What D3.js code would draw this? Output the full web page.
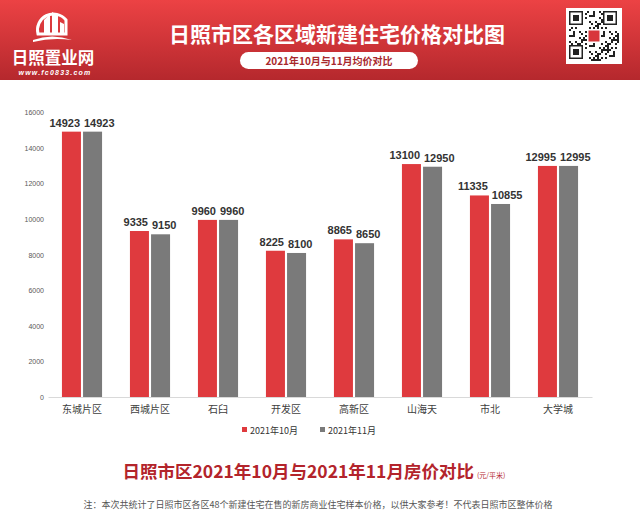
<!DOCTYPE html>
<html lang="zh">
<head>
<meta charset="utf-8">
<title>日照市区各区域新建住宅价格对比图</title>
<script src="https://cdn.jsdelivr.net/npm/d3@7"></script>
<style>
  body { margin: 0; background: #fff; }
  svg { display: block; font-family: "Liberation Sans", Arial, sans-serif; }
  .cjk { font-family: "Noto Sans CJK SC", sans-serif; }
</style>
</head>
<body>
<svg id="chart" width="640" height="514"></svg>
<script>
// data
var districts = ["东城片区", "西城片区", "石臼", "开发区", "高新区", "山海天", "市北", "大学城"];
var octPrice = [14923, 9335, 9960, 8225, 8865, 13100, 11335, 12995];
var novPrice = [14923, 9150, 9960, 8100, 8650, 12950, 10855, 12995];
var seriesNames = ["2021年10月", "2021年11月"];
var yTicks = [0, 2000, 4000, 6000, 8000, 10000, 12000, 14000, 16000];

var colors = ["#df3a3e", "#7a7a7a"];
var svg = d3.select("#chart");
var defs = svg.append("defs");

// ---- header band ----
var grad = defs.append("linearGradient").attr("id", "hdr")
  .attr("x1", 0).attr("y1", 0).attr("x2", 0).attr("y2", 1);
grad.append("stop").attr("offset", "0%").attr("stop-color", "#ec4244");
grad.append("stop").attr("offset", "100%").attr("stop-color", "#b5282d");
svg.append("rect").attr("x", 0).attr("y", 0).attr("width", 640).attr("height", 80)
  .attr("fill", "url(#hdr)");

// logo (simplified)
var logo = svg.append("g").attr("fill", "#fff");
logo.append("path")
  .attr("d", "M38,34 A16,16 0 0 1 66,20 L66,34 Z")
  .attr("fill", "none").attr("stroke", "#fff").attr("stroke-width", 3);
logo.append("path").attr("d", "M44,34 L44,20 L50,14 L50,34 Z");
logo.append("path").attr("d", "M52,34 L52,12 L58,16 L58,34 Z");
logo.append("path").attr("d", "M60,34 L60,22 L64,24 L64,34 Z");
logo.append("path").attr("d", "M33,40 Q52,33 72,40 Q52,37 33,42 Z");
logo.append("text").attr("class", "cjk").attr("x", 53).attr("y", 64)
  .attr("text-anchor", "middle").attr("font-size", 16.5).attr("font-weight", "bold")
  .text("日照置业网");
logo.append("text").attr("x", 55).attr("y", 75).attr("text-anchor", "middle")
  .attr("font-size", 7).attr("font-style", "italic").attr("font-weight", "bold")
  .attr("letter-spacing", 1.2).text("www.fc0833.com");

// title + pill
svg.append("text").attr("class", "cjk").attr("x", 337).attr("y", 42)
  .attr("text-anchor", "middle").attr("fill", "#fff")
  .attr("font-size", 21).attr("font-weight", "bold")
  .text("日照市区各区域新建住宅价格对比图");
svg.append("rect").attr("x", 240).attr("y", 52).attr("width", 178).attr("height", 17)
  .attr("rx", 8.5).attr("fill", "#fff");
svg.append("text").attr("class", "cjk").attr("x", 329).attr("y", 64.5)
  .attr("text-anchor", "middle").attr("fill", "#a8282c")
  .attr("font-size", 10).attr("font-weight", "bold")
  .text("2021年10月与11月均价对比");

// QR code block (decorative)
var qr = svg.append("g").attr("transform", "translate(566,8)");
qr.append("rect").attr("width", 56).attr("height", 56).attr("fill", "#fff");
var cells = [];
for (var r = 0; r < 25; r++) {
  for (var c = 0; c < 25; c++) {
    var inFinder = (r < 8 && c < 8) || (r < 8 && c > 16) || (r > 16 && c < 8);
    if (!inFinder && ((r * 7 + c * 13 + (r * c) % 5) % 3 === 0)) cells.push([r, c]);
  }
}
qr.selectAll("rect.m").data(cells).enter().append("rect").attr("class", "m")
  .attr("x", function(d) { return 3 + d[1] * 2; })
  .attr("y", function(d) { return 3 + d[0] * 2; })
  .attr("width", 2).attr("height", 2).attr("fill", "#222");
[[3, 3], [37, 3], [3, 37]].forEach(function(p) {
  qr.append("rect").attr("x", p[0] + 0.75).attr("y", p[1] + 0.75).attr("width", 12.5).attr("height", 12.5)
    .attr("fill", "none").attr("stroke", "#222").attr("stroke-width", 1.5);
  qr.append("rect").attr("x", p[0] + 4).attr("y", p[1] + 4).attr("width", 6).attr("height", 6).attr("fill", "#222");
});
qr.append("rect").attr("x", 21).attr("y", 21).attr("width", 14).attr("height", 14)
  .attr("fill", "#fff");
qr.append("rect").attr("x", 22.5).attr("y", 22.5).attr("width", 11).attr("height", 11)
  .attr("fill", "#d8373b");

// ---- chart ----
var x0 = d3.scaleBand().domain(districts).range([48, 592])
  .paddingInner(0.41).paddingOuter(0.205);
var x1 = d3.scaleBand().domain([0, 1]).range([0, x0.bandwidth()]).paddingInner(0.1);
var y = d3.scaleLinear().domain([0, 16000]).range([397, 112.5]);

// y axis labels (no line, no ticks)
var yAxis = svg.append("g").attr("transform", "translate(44,0)")
  .call(d3.axisLeft(y).tickValues(yTicks).tickFormat(d3.format("d")).tickSize(0).tickPadding(0));
yAxis.select(".domain").remove();
yAxis.selectAll("text").attr("fill", "#595959").attr("font-size", 7)
  .attr("font-family", "Liberation Sans, Arial, sans-serif");

// baseline + category labels
var xAxis = svg.append("g").attr("transform", "translate(0,397)")
  .call(d3.axisBottom(x0).tickSize(0).tickPadding(9));
xAxis.select(".domain").attr("stroke", "#d9d9d9").attr("stroke-width", 1);
xAxis.selectAll("text").attr("class", "cjk").attr("fill", "#404040").attr("font-size", 10);

var rows = districts.map(function(d, i) { return { name: d, vals: [octPrice[i], novPrice[i]] }; });

var groups = svg.selectAll("g.grp").data(rows).enter().append("g").attr("class", "grp")
  .attr("transform", function(d) { return "translate(" + x0(d.name) + ",0)"; });

groups.selectAll("rect").data(function(d) { return d.vals; }).enter().append("rect")
  .attr("x", function(d, i) { return x1(i); })
  .attr("y", function(d) { return y(d); })
  .attr("width", x1.bandwidth())
  .attr("height", function(d) { return y(0) - y(d); })
  .attr("fill", function(d, i) { return colors[i]; });

// value labels, pushed apart where a pair would collide
groups.each(function(d) {
  var g = d3.select(this);
  var t = d.vals.map(function(v, i) {
    return g.append("text")
      .attr("x", x1(i) + x1.bandwidth() / 2)
      .attr("y", y(v) - 5)
      .attr("text-anchor", "middle")
      .attr("fill", "#333").attr("font-size", 11).attr("font-weight", "bold")
      .text(v);
  });
  var w0 = t[0].node().getComputedTextLength(), w1 = t[1].node().getComputedTextLength();
  var gap = x1(1) - x1(0);
  var overlap = (w0 + w1) / 2 + 4 - gap;
  if (overlap > 0 && Math.abs(y(d.vals[0]) - y(d.vals[1])) < 11) {
    t[0].attr("x", +t[0].attr("x") - overlap / 2);
    t[1].attr("x", +t[1].attr("x") + overlap / 2);
  }
});

// legend
var legX = [242, 320];
var leg = svg.selectAll("g.leg").data(seriesNames).enter().append("g").attr("class", "leg")
  .attr("transform", function(d, i) { return "translate(" + legX[i] + ",427)"; });
leg.append("rect").attr("width", 5).attr("height", 5)
  .attr("fill", function(d, i) { return colors[i]; });
leg.append("text").attr("class", "cjk").attr("x", 8).attr("y", 6.5)
  .attr("font-size", 9).attr("fill", "#333").text(function(d) { return d; });

// bottom title + note
var bt = svg.append("text").attr("class", "cjk").attr("x", 314).attr("y", 478)
  .attr("text-anchor", "middle").attr("fill", "#b3242b");
bt.append("tspan").attr("font-size", 17.5).attr("font-weight", "bold")
  .text("日照市区2021年10月与2021年11月房价对比");
bt.append("tspan").attr("font-size", 7).attr("dx", 3).text("(元/平米)");

svg.append("text").attr("class", "cjk").attr("x", 318).attr("y", 508)
  .attr("text-anchor", "middle").attr("fill", "#555").attr("font-size", 9)
  .text("注：本次共统计了日照市区各区48个新建住宅在售的新房商业住宅样本价格，以供大家参考！不代表日照市区整体价格");
</script>
</body>
</html>
